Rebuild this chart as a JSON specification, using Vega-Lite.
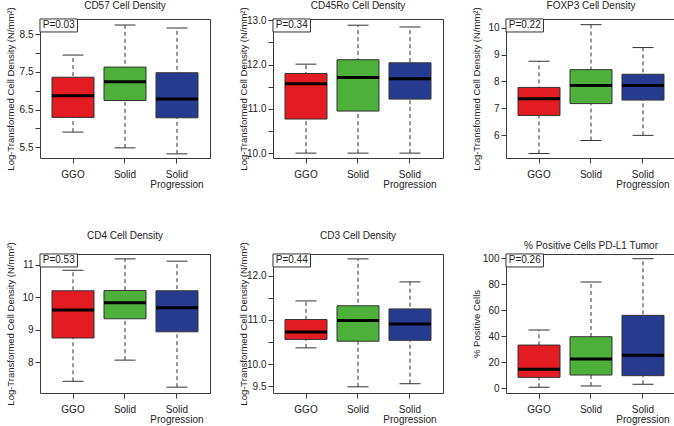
{
  "$schema": "https://vega.github.io/schema/vega-lite/v6.json",
  "padding": {"left": 4, "top": 0, "right": 0, "bottom": 0},
  "background": "white",
  "datasets": {
    "stats": [
      {"panel": "CD57", "p": "P=0.03", "group": "GGO", "min": 5.90, "q1": 6.29, "median": 6.87, "q3": 7.36, "max": 7.95},
      {"panel": "CD57", "p": "P=0.03", "group": "Solid", "min": 5.48, "q1": 6.74, "median": 7.24, "q3": 7.63, "max": 8.75},
      {"panel": "CD57", "p": "P=0.03", "group": "Solid Progression", "min": 5.32, "q1": 6.28, "median": 6.78, "q3": 7.48, "max": 8.67},
      {"panel": "CD45Ro", "p": "P=0.34", "group": "GGO", "min": 10.0, "q1": 10.77, "median": 11.57, "q3": 11.80, "max": 12.01},
      {"panel": "CD45Ro", "p": "P=0.34", "group": "Solid", "min": 10.0, "q1": 10.95, "median": 11.71, "q3": 12.11, "max": 12.89},
      {"panel": "CD45Ro", "p": "P=0.34", "group": "Solid Progression", "min": 10.0, "q1": 11.22, "median": 11.68, "q3": 12.04, "max": 12.85},
      {"panel": "FOXP3", "p": "P=0.22", "group": "GGO", "min": 5.33, "q1": 6.74, "median": 7.36, "q3": 7.78, "max": 8.75},
      {"panel": "FOXP3", "p": "P=0.22", "group": "Solid", "min": 5.81, "q1": 7.18, "median": 7.85, "q3": 8.44, "max": 10.11},
      {"panel": "FOXP3", "p": "P=0.22", "group": "Solid Progression", "min": 6.0, "q1": 7.31, "median": 7.85, "q3": 8.27, "max": 9.26},
      {"panel": "CD4", "p": "P=0.53", "group": "GGO", "min": 7.42, "q1": 8.75, "median": 9.61, "q3": 10.20, "max": 10.83},
      {"panel": "CD4", "p": "P=0.53", "group": "Solid", "min": 8.07, "q1": 9.34, "median": 9.83, "q3": 10.21, "max": 11.18},
      {"panel": "CD4", "p": "P=0.53", "group": "Solid Progression", "min": 7.24, "q1": 8.94, "median": 9.68, "q3": 10.20, "max": 11.11},
      {"panel": "CD3", "p": "P=0.44", "group": "GGO", "min": 10.37, "q1": 10.56, "median": 10.73, "q3": 11.01, "max": 11.43},
      {"panel": "CD3", "p": "P=0.44", "group": "Solid", "min": 9.49, "q1": 10.52, "median": 10.99, "q3": 11.32, "max": 12.38},
      {"panel": "CD3", "p": "P=0.44", "group": "Solid Progression", "min": 9.56, "q1": 10.54, "median": 10.91, "q3": 11.25, "max": 11.86},
      {"panel": "PDL1", "p": "P=0.26", "group": "GGO", "min": 0.8, "q1": 8.4, "median": 14.6, "q3": 33.2, "max": 44.8},
      {"panel": "PDL1", "p": "P=0.26", "group": "Solid", "min": 1.8, "q1": 10.2, "median": 22.5, "q3": 39.6, "max": 81.6},
      {"panel": "PDL1", "p": "P=0.26", "group": "Solid Progression", "min": 3.1, "q1": 9.7, "median": 25.3, "q3": 56.0, "max": 99.5}
    ]
  },
  "data": {"name": "stats"},
  "columns": 3,
  "bounds": "flush",
  "spacing": {"row": 96, "column": 63},
  "concat": [
    {
      "title": {"text": "CD57 Cell Density", "offset": -4},
      "width": 170, "height": 139,
      "transform": [{"filter": "datum.panel == 'CD57'"}],
      "encoding": {"x": {"field": "group", "type": "nominal", "scale": {"domain": ["GGO", "Solid", "Solid Progression"], "paddingInner": 0.1923, "paddingOuter": 0.2308}, "axis": {"labelExpr": "datum.value == 'Solid Progression' ? ['Solid', 'Progression'] : datum.value"}}},
      "layer": [
        {"mark": {"type": "rule", "strokeDash": [4, 3], "color": "#333333", "opacity": 1}, "encoding": {"y": {"field": "min", "type": "quantitative", "scale": {"domain": [5.21, 8.91], "nice": false, "zero": false}, "axis": {"title": "Log-Transformed Cell Density (N/mm²)", "tickCount": 30, "values": [5.5, 6, 6.5, 7, 7.5, 8, 8.5], "labelExpr": "indexof([5.5, 6.5, 7.5, 8.5], datum.value) >= 0 ? format(datum.value, '.1f') : ''"}}, "y2": {"field": "max"}}},
        {"mark": {"type": "tick", "size": 21, "thickness": 1, "color": "#333333", "opacity": 1}, "encoding": {"y": {"field": "min", "type": "quantitative"}}},
        {"mark": {"type": "tick", "size": 21, "thickness": 1, "color": "#333333", "opacity": 1}, "encoding": {"y": {"field": "max", "type": "quantitative"}}},
        {"mark": {"type": "bar", "stroke": "#333333", "strokeWidth": 1, "opacity": 1}, "encoding": {"y": {"field": "q1", "type": "quantitative"}, "y2": {"field": "q3"}, "color": {"field": "group", "type": "nominal", "scale": {"domain": ["GGO", "Solid", "Solid Progression"], "range": ["#E31B23", "#4DB03A", "#263B8F"]}, "legend": null}}},
        {"mark": {"type": "tick", "size": 42, "thickness": 3, "color": "#000000", "opacity": 1}, "encoding": {"y": {"field": "median", "type": "quantitative"}}},
        {"transform": [{"filter": "datum.group == 'GGO'"}], "mark": {"type": "point", "shape": "M-1,-0.347H1V0.347H-1Z", "size": 1406, "filled": true, "fill": "white", "stroke": "#333333", "strokeWidth": 1, "opacity": 1}, "encoding": {"x": {"datum": "GGO", "type": "nominal", "bandPosition": 0.16}, "y": {"datum": 8.738, "type": "quantitative"}}},
        {"transform": [{"filter": "datum.group == 'GGO'"}], "mark": {"type": "text", "fontSize": 10, "color": "#222222"}, "encoding": {"x": {"datum": "GGO", "type": "nominal", "bandPosition": 0.16}, "y": {"datum": 8.738, "type": "quantitative"}, "text": {"field": "p"}}}
      ]
    },
    {
      "title": {"text": "CD45Ro Cell Density", "offset": -4},
      "width": 170, "height": 139,
      "transform": [{"filter": "datum.panel == 'CD45Ro'"}],
      "encoding": {"x": {"field": "group", "type": "nominal", "scale": {"domain": ["GGO", "Solid", "Solid Progression"], "paddingInner": 0.1923, "paddingOuter": 0.2308}, "axis": {"labelExpr": "datum.value == 'Solid Progression' ? ['Solid', 'Progression'] : datum.value"}}},
      "layer": [
        {"mark": {"type": "rule", "strokeDash": [4, 3], "color": "#333333", "opacity": 1}, "encoding": {"y": {"field": "min", "type": "quantitative", "scale": {"domain": [9.89, 13.03], "nice": false, "zero": false}, "axis": {"title": "Log-Transformed Cell Density (N/mm²)", "tickCount": 30, "values": [10, 10.5, 11, 11.5, 12, 12.5, 13], "labelExpr": "indexof([10, 11, 12, 13], datum.value) >= 0 ? format(datum.value, '.1f') : ''"}}, "y2": {"field": "max"}}},
        {"mark": {"type": "tick", "size": 21, "thickness": 1, "color": "#333333", "opacity": 1}, "encoding": {"y": {"field": "min", "type": "quantitative"}}},
        {"mark": {"type": "tick", "size": 21, "thickness": 1, "color": "#333333", "opacity": 1}, "encoding": {"y": {"field": "max", "type": "quantitative"}}},
        {"mark": {"type": "bar", "stroke": "#333333", "strokeWidth": 1, "opacity": 1}, "encoding": {"y": {"field": "q1", "type": "quantitative"}, "y2": {"field": "q3"}, "color": {"field": "group", "type": "nominal", "scale": {"domain": ["GGO", "Solid", "Solid Progression"], "range": ["#E31B23", "#4DB03A", "#263B8F"]}, "legend": null}}},
        {"mark": {"type": "tick", "size": 42, "thickness": 3, "color": "#000000", "opacity": 1}, "encoding": {"y": {"field": "median", "type": "quantitative"}}},
        {"transform": [{"filter": "datum.group == 'GGO'"}], "mark": {"type": "point", "shape": "M-1,-0.347H1V0.347H-1Z", "size": 1406, "filled": true, "fill": "white", "stroke": "#333333", "strokeWidth": 1, "opacity": 1}, "encoding": {"x": {"datum": "GGO", "type": "nominal", "bandPosition": 0.16}, "y": {"datum": 12.884, "type": "quantitative"}}},
        {"transform": [{"filter": "datum.group == 'GGO'"}], "mark": {"type": "text", "fontSize": 10, "color": "#222222"}, "encoding": {"x": {"datum": "GGO", "type": "nominal", "bandPosition": 0.16}, "y": {"datum": 12.884, "type": "quantitative"}, "text": {"field": "p"}}}
      ]
    },
    {
      "title": {"text": "FOXP3 Cell Density", "offset": -4},
      "width": 170, "height": 139,
      "transform": [{"filter": "datum.panel == 'FOXP3'"}],
      "encoding": {"x": {"field": "group", "type": "nominal", "scale": {"domain": ["GGO", "Solid", "Solid Progression"], "paddingInner": 0.1923, "paddingOuter": 0.2308}, "axis": {"labelExpr": "datum.value == 'Solid Progression' ? ['Solid', 'Progression'] : datum.value"}}},
      "layer": [
        {"mark": {"type": "rule", "strokeDash": [4, 3], "color": "#333333", "opacity": 1}, "encoding": {"y": {"field": "min", "type": "quantitative", "scale": {"domain": [5.16, 10.32], "nice": false, "zero": false}, "axis": {"title": "Log-Transformed Cell Density (N/mm²)", "tickCount": 30, "values": [6, 7, 8, 9, 10], "format": "d"}}, "y2": {"field": "max"}}},
        {"mark": {"type": "tick", "size": 21, "thickness": 1, "color": "#333333", "opacity": 1}, "encoding": {"y": {"field": "min", "type": "quantitative"}}},
        {"mark": {"type": "tick", "size": 21, "thickness": 1, "color": "#333333", "opacity": 1}, "encoding": {"y": {"field": "max", "type": "quantitative"}}},
        {"mark": {"type": "bar", "stroke": "#333333", "strokeWidth": 1, "opacity": 1}, "encoding": {"y": {"field": "q1", "type": "quantitative"}, "y2": {"field": "q3"}, "color": {"field": "group", "type": "nominal", "scale": {"domain": ["GGO", "Solid", "Solid Progression"], "range": ["#E31B23", "#4DB03A", "#263B8F"]}, "legend": null}}},
        {"mark": {"type": "tick", "size": 42, "thickness": 3, "color": "#000000", "opacity": 1}, "encoding": {"y": {"field": "median", "type": "quantitative"}}},
        {"transform": [{"filter": "datum.group == 'GGO'"}], "mark": {"type": "point", "shape": "M-1,-0.347H1V0.347H-1Z", "size": 1406, "filled": true, "fill": "white", "stroke": "#333333", "strokeWidth": 1, "opacity": 1}, "encoding": {"x": {"datum": "GGO", "type": "nominal", "bandPosition": 0.16}, "y": {"datum": 10.08, "type": "quantitative"}}},
        {"transform": [{"filter": "datum.group == 'GGO'"}], "mark": {"type": "text", "fontSize": 10, "color": "#222222"}, "encoding": {"x": {"datum": "GGO", "type": "nominal", "bandPosition": 0.16}, "y": {"datum": 10.08, "type": "quantitative"}, "text": {"field": "p"}}}
      ]
    },
    {
      "title": {"text": "CD4 Cell Density", "offset": 1},
      "width": 170, "height": 139,
      "transform": [{"filter": "datum.panel == 'CD4'"}],
      "encoding": {"x": {"field": "group", "type": "nominal", "scale": {"domain": ["GGO", "Solid", "Solid Progression"], "paddingInner": 0.1923, "paddingOuter": 0.2308}, "axis": {"labelExpr": "datum.value == 'Solid Progression' ? ['Solid', 'Progression'] : datum.value"}}},
      "layer": [
        {"mark": {"type": "rule", "strokeDash": [4, 3], "color": "#333333", "opacity": 1}, "encoding": {"y": {"field": "min", "type": "quantitative", "scale": {"domain": [7.06, 11.33], "nice": false, "zero": false}, "axis": {"title": "Log-Transformed Cell Density (N/mm²)", "tickCount": 30, "values": [8, 9, 10, 11], "format": "d"}}, "y2": {"field": "max"}}},
        {"mark": {"type": "tick", "size": 21, "thickness": 1, "color": "#333333", "opacity": 1}, "encoding": {"y": {"field": "min", "type": "quantitative"}}},
        {"mark": {"type": "tick", "size": 21, "thickness": 1, "color": "#333333", "opacity": 1}, "encoding": {"y": {"field": "max", "type": "quantitative"}}},
        {"mark": {"type": "bar", "stroke": "#333333", "strokeWidth": 1, "opacity": 1}, "encoding": {"y": {"field": "q1", "type": "quantitative"}, "y2": {"field": "q3"}, "color": {"field": "group", "type": "nominal", "scale": {"domain": ["GGO", "Solid", "Solid Progression"], "range": ["#E31B23", "#4DB03A", "#263B8F"]}, "legend": null}}},
        {"mark": {"type": "tick", "size": 42, "thickness": 3, "color": "#000000", "opacity": 1}, "encoding": {"y": {"field": "median", "type": "quantitative"}}},
        {"transform": [{"filter": "datum.group == 'GGO'"}], "mark": {"type": "point", "shape": "M-1,-0.347H1V0.347H-1Z", "size": 1406, "filled": true, "fill": "white", "stroke": "#333333", "strokeWidth": 1, "opacity": 1}, "encoding": {"x": {"datum": "GGO", "type": "nominal", "bandPosition": 0.16}, "y": {"datum": 11.131, "type": "quantitative"}}},
        {"transform": [{"filter": "datum.group == 'GGO'"}], "mark": {"type": "text", "fontSize": 10, "color": "#222222"}, "encoding": {"x": {"datum": "GGO", "type": "nominal", "bandPosition": 0.16}, "y": {"datum": 11.131, "type": "quantitative"}, "text": {"field": "p"}}}
      ]
    },
    {
      "title": {"text": "CD3 Cell Density", "offset": 1},
      "width": 170, "height": 139,
      "transform": [{"filter": "datum.panel == 'CD3'"}],
      "encoding": {"x": {"field": "group", "type": "nominal", "scale": {"domain": ["GGO", "Solid", "Solid Progression"], "paddingInner": 0.1923, "paddingOuter": 0.2308}, "axis": {"labelExpr": "datum.value == 'Solid Progression' ? ['Solid', 'Progression'] : datum.value"}}},
      "layer": [
        {"mark": {"type": "rule", "strokeDash": [4, 3], "color": "#333333", "opacity": 1}, "encoding": {"y": {"field": "min", "type": "quantitative", "scale": {"domain": [9.35, 12.49], "nice": false, "zero": false}, "axis": {"title": "Log-Transformed Cell Density (N/mm²)", "tickCount": 30, "values": [9.5, 10, 10.5, 11, 11.5, 12], "labelExpr": "indexof([9.5, 10, 11, 12], datum.value) >= 0 ? format(datum.value, '.1f') : ''"}}, "y2": {"field": "max"}}},
        {"mark": {"type": "tick", "size": 21, "thickness": 1, "color": "#333333", "opacity": 1}, "encoding": {"y": {"field": "min", "type": "quantitative"}}},
        {"mark": {"type": "tick", "size": 21, "thickness": 1, "color": "#333333", "opacity": 1}, "encoding": {"y": {"field": "max", "type": "quantitative"}}},
        {"mark": {"type": "bar", "stroke": "#333333", "strokeWidth": 1, "opacity": 1}, "encoding": {"y": {"field": "q1", "type": "quantitative"}, "y2": {"field": "q3"}, "color": {"field": "group", "type": "nominal", "scale": {"domain": ["GGO", "Solid", "Solid Progression"], "range": ["#E31B23", "#4DB03A", "#263B8F"]}, "legend": null}}},
        {"mark": {"type": "tick", "size": 42, "thickness": 3, "color": "#000000", "opacity": 1}, "encoding": {"y": {"field": "median", "type": "quantitative"}}},
        {"transform": [{"filter": "datum.group == 'GGO'"}], "mark": {"type": "point", "shape": "M-1,-0.347H1V0.347H-1Z", "size": 1406, "filled": true, "fill": "white", "stroke": "#333333", "strokeWidth": 1, "opacity": 1}, "encoding": {"x": {"datum": "GGO", "type": "nominal", "bandPosition": 0.16}, "y": {"datum": 12.344, "type": "quantitative"}}},
        {"transform": [{"filter": "datum.group == 'GGO'"}], "mark": {"type": "text", "fontSize": 10, "color": "#222222"}, "encoding": {"x": {"datum": "GGO", "type": "nominal", "bandPosition": 0.16}, "y": {"datum": 12.344, "type": "quantitative"}, "text": {"field": "p"}}}
      ]
    },
    {
      "title": {"text": "% Positive Cells PD-L1 Tumor", "offset": 1},
      "width": 170, "height": 139,
      "transform": [{"filter": "datum.panel == 'PDL1'"}],
      "encoding": {"x": {"field": "group", "type": "nominal", "scale": {"domain": ["GGO", "Solid", "Solid Progression"], "paddingInner": 0.1923, "paddingOuter": 0.2308}, "axis": {"labelExpr": "datum.value == 'Solid Progression' ? ['Solid', 'Progression'] : datum.value"}}},
      "layer": [
        {"mark": {"type": "rule", "strokeDash": [4, 3], "color": "#333333", "opacity": 1}, "encoding": {"y": {"field": "min", "type": "quantitative", "scale": {"domain": [-3.6, 103.1], "nice": false, "zero": false}, "axis": {"title": "% Positive Cells", "tickCount": 30, "values": [0, 20, 40, 60, 80, 100], "format": "d"}}, "y2": {"field": "max"}}},
        {"mark": {"type": "tick", "size": 21, "thickness": 1, "color": "#333333", "opacity": 1}, "encoding": {"y": {"field": "min", "type": "quantitative"}}},
        {"mark": {"type": "tick", "size": 21, "thickness": 1, "color": "#333333", "opacity": 1}, "encoding": {"y": {"field": "max", "type": "quantitative"}}},
        {"mark": {"type": "bar", "stroke": "#333333", "strokeWidth": 1, "opacity": 1}, "encoding": {"y": {"field": "q1", "type": "quantitative"}, "y2": {"field": "q3"}, "color": {"field": "group", "type": "nominal", "scale": {"domain": ["GGO", "Solid", "Solid Progression"], "range": ["#E31B23", "#4DB03A", "#263B8F"]}, "legend": null}}},
        {"mark": {"type": "tick", "size": 42, "thickness": 3, "color": "#000000", "opacity": 1}, "encoding": {"y": {"field": "median", "type": "quantitative"}}},
        {"transform": [{"filter": "datum.group == 'GGO'"}], "mark": {"type": "point", "shape": "M-1,-0.347H1V0.347H-1Z", "size": 1406, "filled": true, "fill": "white", "stroke": "#333333", "strokeWidth": 1, "opacity": 1}, "encoding": {"x": {"datum": "GGO", "type": "nominal", "bandPosition": 0.16}, "y": {"datum": 98.13, "type": "quantitative"}}},
        {"transform": [{"filter": "datum.group == 'GGO'"}], "mark": {"type": "text", "fontSize": 10, "color": "#222222"}, "encoding": {"x": {"datum": "GGO", "type": "nominal", "bandPosition": 0.16}, "y": {"datum": 98.13, "type": "quantitative"}, "text": {"field": "p"}}}
      ]
    }
  ],
  "config": {
    "font": "Liberation Sans",
    "view": {"stroke": "#3a3a3a", "strokeWidth": 1},
    "axis": {"domain": false, "grid": false, "tickColor": "#3a3a3a", "labelColor": "#222222", "titleColor": "#222222", "labelFontSize": 10, "titleFontSize": 9.5, "titleFontWeight": "normal", "tickSize": 5, "labelOverlap": false},
    "axisX": {"labelAngle": 0, "title": null, "labelPadding": 6.5, "labelLineHeight": 10},
    "axisY": {"labelPadding": 2, "titlePadding": 1, "minExtent": 24, "maxExtent": 24, "labelOverlap": false},
    "title": {"fontSize": 10, "fontWeight": "normal", "color": "#222222", "anchor": "middle", "frame": "group", "baseline": "alphabetic"}
  }
}
